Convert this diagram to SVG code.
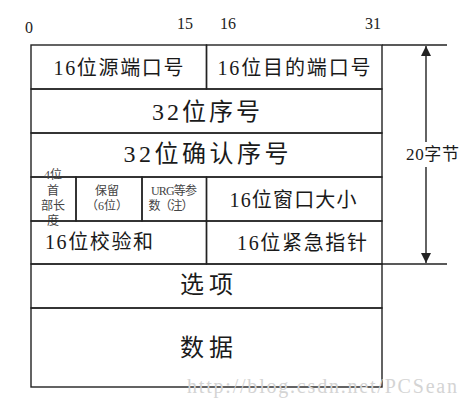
<svg xmlns="http://www.w3.org/2000/svg" width="468" height="407" viewBox="0 0 468 407">
<defs>
<style>
.cell{fill:none;stroke:#222;stroke-width:1.4}
.ln{stroke:#222;stroke-width:1.4;fill:none}
.t{font-family:"Liberation Serif","Noto Sans CJK SC",serif;fill:#1a1a1a;text-anchor:middle}
.big{font-size:24px}
.mid{font-size:20px}
.sm{font-size:12px;fill:#444}
.num{font-family:"Liberation Serif",serif;font-size:16px;fill:#222;text-anchor:middle}
.wm{font-family:"Liberation Serif",serif;font-size:20px;fill:#d4d4d4}
</style>
<marker id="ah" viewBox="0 0 10 10" refX="10" refY="5" markerWidth="10" markerHeight="10" markerUnits="userSpaceOnUse" orient="auto">
<path d="M0,0 L10,5 L0,10 z" fill="#222"/>
</marker>
</defs>
<rect width="468" height="407" fill="#fff"/>

<g id="bit-labels">
<text class="num" x="29" y="33">0</text>
<text class="num" x="185" y="29">15</text>
<text class="num" x="228" y="29">16</text>
<text class="num" x="373" y="29">31</text>
</g>

<g id="src-port">
<rect class="cell" x="31" y="45" width="175.5" height="44"/>
<text class="t mid" x="118.5" y="75" textLength="130">16位源端口号</text>
</g>
<g id="dst-port">
<rect class="cell" x="206.5" y="45" width="175.5" height="44"/>
<text class="t mid" x="294" y="75" textLength="153">16位目的端口号</text>
</g>
<g id="seq">
<rect class="cell" x="31" y="89" width="351" height="44"/>
<text class="t big" x="206" y="120" textLength="108">32位序号</text>
</g>
<g id="ack">
<rect class="cell" x="31" y="133" width="351" height="44"/>
<text class="t big" x="206" y="161.5" textLength="165">32位确认序号</text>
</g>
<g id="hdr-len">
<rect class="cell" x="31" y="177" width="45" height="44"/>
<text class="t sm" x="53" y="178.5">4位</text>
<text class="t sm" x="53" y="195">首</text>
<text class="t sm" x="53" y="210">部长</text>
<text class="t sm" x="53" y="224.5">度</text>
</g>
<g id="reserved">
<rect class="cell" x="76" y="177" width="66" height="44"/>
<text class="t sm" x="107" y="194.5">保留</text>
<text class="t sm" x="107" y="209.5" textLength="42">（6位）</text>
</g>
<g id="flags">
<rect class="cell" x="142" y="177" width="64.5" height="44"/>
<text class="t sm" x="174" y="194.5" textLength="46">URG等参</text>
<text class="t sm" x="171" y="209.5" textLength="45">数（注）</text>
</g>
<g id="window">
<rect class="cell" x="206.5" y="177" width="175.5" height="44"/>
<text class="t mid" x="293" y="206.5" textLength="127">16位窗口大小</text>
</g>
<g id="checksum">
<rect class="cell" x="31" y="221" width="175.5" height="43"/>
<text class="t mid" x="99" y="249" textLength="108">16位校验和</text>
</g>
<g id="urgent">
<rect class="cell" x="206.5" y="221" width="175.5" height="43"/>
<text class="t mid" x="302" y="250" textLength="130">16位紧急指针</text>
</g>
<g id="options">
<rect class="cell" x="31" y="264" width="351" height="44"/>
<text class="t big" x="206.5" y="293" textLength="53">选项</text>
</g>
<g id="data">
<rect class="cell" x="31" y="308" width="351" height="79"/>
<text class="t big" x="206.5" y="356" textLength="53">数据</text>
</g>

<g id="connectors">
<line class="ln" x1="382" y1="45" x2="447" y2="45"/>
<line class="ln" x1="382" y1="264" x2="447" y2="264"/>
<line class="ln" x1="426" y1="142" x2="426" y2="46" marker-end="url(#ah)"/>
<line class="ln" x1="426" y1="167" x2="426" y2="263" marker-end="url(#ah)"/>
</g>
<g id="size-label">
<text class="t" style="font-size:17px" x="432.5" y="160" textLength="53">20字节</text>
</g>

<text class="wm" x="187" y="393" textLength="270">http://blog.csdn.net/PCSean</text>
</svg>
